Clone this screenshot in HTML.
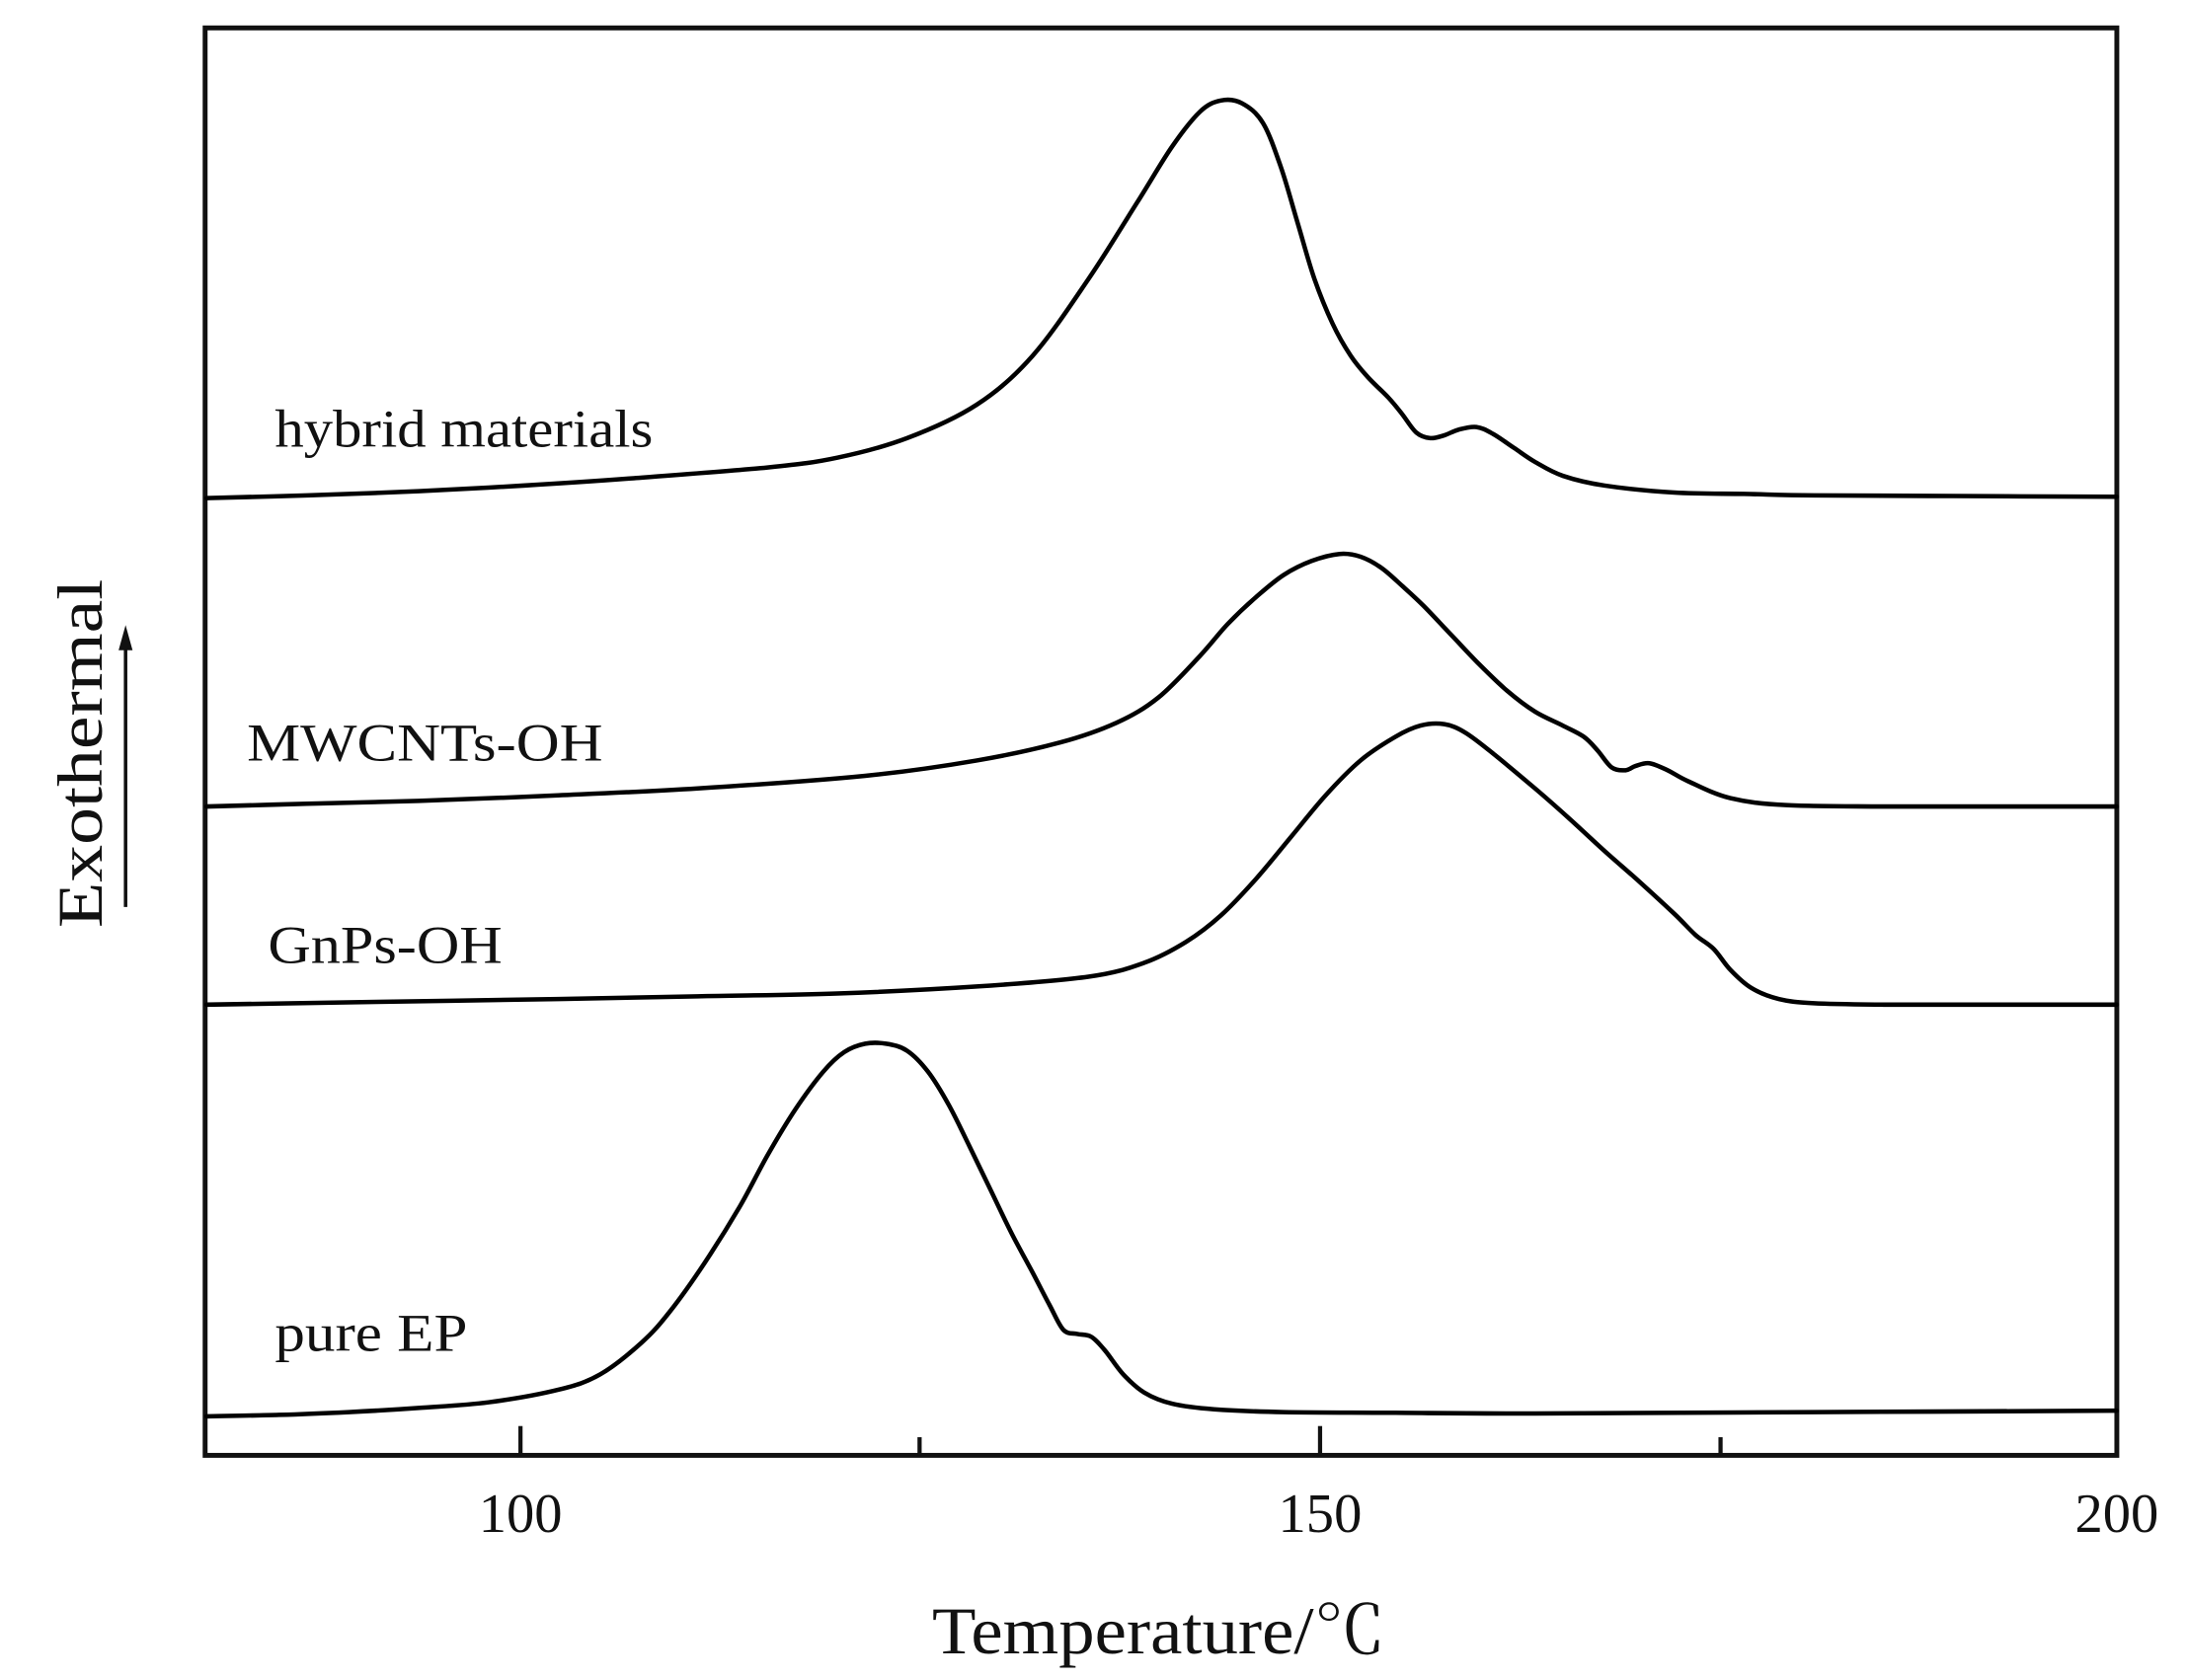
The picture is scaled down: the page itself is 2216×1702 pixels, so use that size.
<!DOCTYPE html>
<html><head><meta charset="utf-8"><style>
html,body{margin:0;padding:0;background:#fff;}
svg{display:block;}
text{font-family:"Liberation Serif","Noto Serif CJK SC",serif;fill:#111;}
</style></head><body>
<svg id="s" width="2216" height="1702" viewBox="0 0 1568 1204" preserveAspectRatio="none" xmlns="http://www.w3.org/2000/svg">
<rect x="0" y="0" width="1568" height="1204" fill="#fff"/>
<rect x="147" y="20" width="1370" height="1023" fill="none" stroke="#111" stroke-width="3.5"/>
<g stroke="#111" stroke-width="3" fill="none">
<line x1="373" y1="1043" x2="373" y2="1022"/>
<line x1="659" y1="1043" x2="659" y2="1030"/>
<line x1="946" y1="1043" x2="946" y2="1022"/>
<line x1="1233" y1="1043" x2="1233" y2="1030"/>
</g>
<g id="curves" stroke="#000" stroke-width="3.2" fill="none" stroke-linejoin="round" stroke-linecap="round">
<polyline points="148,357 220,355 300,352 375,348 450,343 550,335 600,328 650,314 700,290 740,255 780,200 815,145 840,105 860,80 875,72 890,74 905,88 918,120 930,160 942,200 955,232 968,255 980,270 995,285 1005,297 1015,310 1025,314 1035,312 1045,308 1058,306 1070,311 1085,321 1100,331 1120,341 1150,348 1200,353 1250,354 1300,355 1400,355.5 1517,356"/>
<polyline points="148,578 220,576 300,574 400,570 500,565 620,556 700,545 760,532 800,518 830,500 860,470 880,447 900,428 920,412 940,402 960,397 975,399 990,407 1005,420 1020,434 1040,455 1060,476 1080,495 1100,510 1120,520 1135,528 1145,538 1155,550 1165,552 1172,549 1182,547 1195,552 1210,560 1240,572 1280,577 1350,578 1430,578 1517,578"/>
<polyline points="148,720 270,718 400,716 500,714 600,712 700,707 780,700 820,690 850,675 875,656 900,630 925,600 950,570 975,545 1000,528 1018,520 1035,519 1050,525 1070,540 1100,565 1125,587 1150,610 1175,632 1200,655 1215,670 1228,680 1240,695 1255,708 1275,716 1300,719 1350,720 1420,720 1517,720"/>
<polyline points="148,1015 200,1014 250,1012 300,1009 350,1005 400,996 430,985 460,962 480,940 505,905 530,865 550,828 570,795 590,768 605,754 620,748 635,748 650,753 665,768 680,792 695,822 710,853 725,884 740,912 752,935 762,953 772,956 782,958 792,968 805,985 820,998 840,1006 870,1010 920,1012 1000,1012.5 1100,1013 1300,1012 1517,1011"/>
</g>
<text x="197" y="320" font-size="38" textLength="271" lengthAdjust="spacingAndGlyphs">hybrid materials</text>
<text x="177" y="545" font-size="38" textLength="255" lengthAdjust="spacingAndGlyphs">MWCNTs-OH</text>
<text x="192" y="690" font-size="38" textLength="168" lengthAdjust="spacingAndGlyphs">GnPs-OH</text>
<text x="197" y="968" font-size="38" textLength="138" lengthAdjust="spacingAndGlyphs">pure EP</text>
<text x="373" y="1098" font-size="40" text-anchor="middle">100</text>
<text x="946" y="1098" font-size="40" text-anchor="middle">150</text>
<text x="1517" y="1098" font-size="40" text-anchor="middle">200</text>
<text x="668" y="1185" font-size="48" textLength="325" lengthAdjust="spacingAndGlyphs">Temperature/℃</text>
<text transform="translate(73,665) rotate(-90)" font-size="46" textLength="250" lengthAdjust="spacingAndGlyphs">Exothermal</text>
<line x1="90" y1="650" x2="90" y2="462" stroke="#111" stroke-width="2.5"/>
<polygon points="90,448 85,466 95,466" fill="#111"/>
</svg>
<script>
document.querySelectorAll('#curves polyline').forEach(function(pl){
  var p=pl.getAttribute('points').trim().split(/\s+/).map(function(s){return s.split(',').map(Number);});
  var d='M'+p[0][0]+','+p[0][1];
  for(var i=0;i<p.length-1;i++){
    var p0=p[i>0?i-1:0],p1=p[i],p2=p[i+1],p3=p[i+2<p.length?i+2:i+1];
    var c1x=p1[0]+(p2[0]-p0[0])/6,c1y=p1[1]+(p2[1]-p0[1])/6;
    var c2x=p2[0]-(p3[0]-p1[0])/6,c2y=p2[1]-(p3[1]-p1[1])/6;
    if(c1x>p2[0])c1x=p2[0]; if(c2x<p1[0])c2x=p1[0];
    d+=' C'+c1x.toFixed(1)+','+c1y.toFixed(1)+' '+c2x.toFixed(1)+','+c2y.toFixed(1)+' '+p2[0]+','+p2[1];
  }
  var path=document.createElementNS('http://www.w3.org/2000/svg','path');
  path.setAttribute('d',d);
  pl.parentNode.replaceChild(path,pl);
});
</script>
</body></html>
